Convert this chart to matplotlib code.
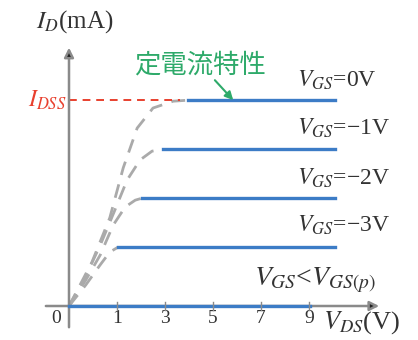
import matplotlib
matplotlib.use('Agg')
from matplotlib import pyplot as plt

plt.rcParams['font.family'] = ['Liberation Serif', 'DejaVu Sans']
plt.rcParams['mathtext.fontset'] = 'stix'

# V_DS tick labels (drawn evenly spaced, as in the figure)
vds_ticks = [1, 3, 5, 7, 9]

# saturation levels (arbitrary units) for each V_GS
vgs_labels = ['=0V', '=\u22121V', '=\u22122V', '=\u22123V']
levels = [4.2, 3.2, 2.2, 1.2]
sat_start = [2.48, 1.96, 1.52, 1.02]
sat_end = 5.54
cutoff_end = 5.02

# knee curves (dashed part)
knee_x = [
    [0, 0.23, 0.48, 0.85, 1.13, 1.42, 1.75, 2.17, 2.48],
    [0, 0.31, 0.65, 0.94, 1.21, 1.48, 1.73, 1.96],
    [0, 0.35, 0.65, 0.92, 1.17, 1.38, 1.52],
    [0, 0.35, 0.65, 0.85, 1.02],
]
knee_y = [
    [0, 0.43, 0.90, 1.80, 2.82, 3.63, 4.04, 4.18, 4.2],
    [0, 0.53, 1.24, 1.92, 2.57, 2.98, 3.16, 3.2],
    [0, 0.53, 1.04, 1.65, 2.02, 2.16, 2.2],
    [0, 0.43, 0.84, 1.10, 1.2],
]
label_y = [4.61, 3.63, 2.61, 1.65]

blue = '#3c7cc6'
grey = '#8a8a8a'
dark = '#333333'

fig = plt.figure(figsize=(4.18, 3.4), dpi=100)
ax = fig.add_axes([0, 0, 1, 1])
ax.set_xlim(-69 / 48, (418 - 69) / 48)
ax.set_ylim((306 - 340) / 49, 306 / 49)
ax.axis('off')

# axes with arrows
ax.annotate('', xy=(0, 5.33), xytext=(0, -0.49),
            arrowprops=dict(arrowstyle='-|>', color=grey, lw=1.8,
                            mutation_scale=14, fc='#222222', ec=grey))
ax.annotate('', xy=(6.52, 0), xytext=(-0.54, 0),
            arrowprops=dict(arrowstyle='-|>', color=grey, lw=1.8,
                            mutation_scale=14, fc='#222222', ec=grey))

# dashed knee curves
for xs, ys in zip(knee_x, knee_y):
    ax.plot(xs, ys, color='#aaaaaa', lw=2, dashes=(5, 3.5), zorder=2)

# saturation lines
for lv, x0 in zip(levels, sat_start):
    ax.plot([x0, sat_end], [lv, lv], color=blue, lw=2.4, zorder=3)
ax.plot([0, cutoff_end], [0, 0], color=blue, lw=2.4, zorder=3)

# ticks
for v in vds_ticks:
    p = (v + 1) / 2
    ax.plot([p, p], [-0.08, 0.08], color=grey, lw=1, zorder=4)
    ax.text(p, -0.26, str(v), ha='center', va='center', fontsize=14, color=dark)
ax.text(-0.27, -0.26, '0', ha='center', va='center', fontsize=14, color=dark)

# I_DSS
ax.plot([0, 2.32], [4.2, 4.2], color='#e8402e', lw=1.4, dashes=(4, 3), zorder=2)
ax.text(-0.05, 4.2, '$I_{DSS}$', ha='right', va='center', fontsize=17, color='#e8402e')

# labels
ax.text(0.12, 5.8, '$I_D$(mA)', ha='center', va='center', fontsize=18, color=dark)
ax.text(5.3, -0.33, '$V_{DS}$(V)', ha='left', va='center', fontsize=19, color=dark)
for lab, ly in zip(vgs_labels, label_y):
    ax.text(4.75, ly, '$V_{GS}$' + lab, ha='left', va='center', fontsize=17, color=dark)
ax.text(3.85, 0.53, '$V_{GS}$<$V_{GS(p)}$', ha='left', va='center', fontsize=20, color=dark)

ax.text(2.73, 4.92, '定電流特性', ha='center', va='center', fontsize=19, color='#2eaa6a',
        family=['Noto Sans CJK JP', 'DejaVu Sans'])
ax.annotate('', xy=(3.46, 4.16), xytext=(3.0, 4.65),
            arrowprops=dict(arrowstyle='-|>', color='#2eaa6a', lw=1.5, mutation_scale=12))

fig.savefig('out.png', dpi=100)
